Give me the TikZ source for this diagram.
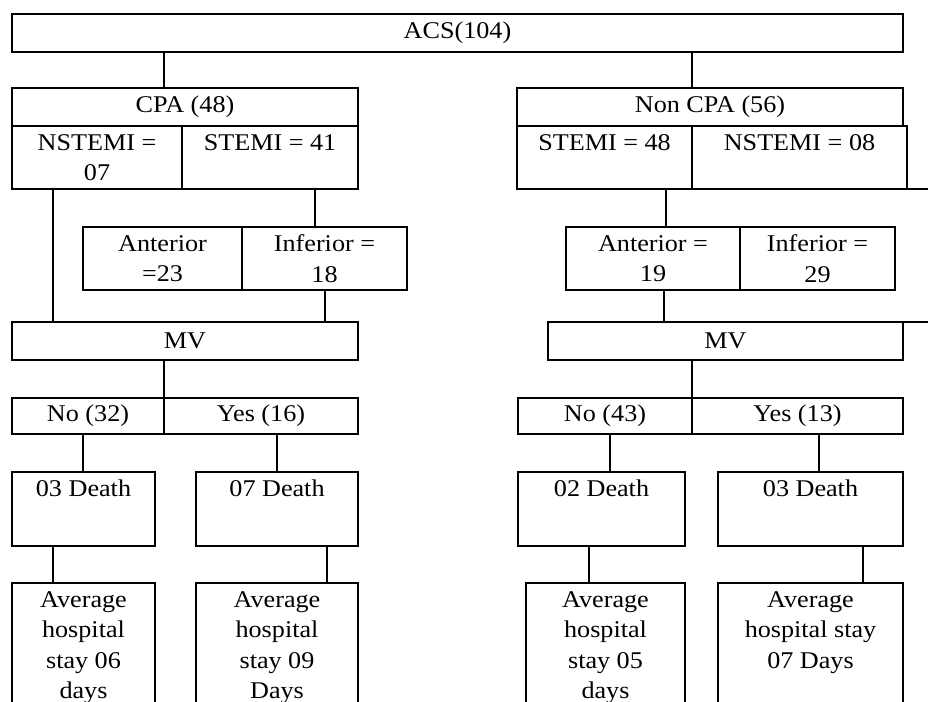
\documentclass[tikz,border=0pt]{standalone}
\usepackage{fontspec}
\setmainfont{Liberation Serif}[FakeStretch=1.09]
\usetikzlibrary{positioning}

\begin{document}
\begin{tikzpicture}[
    x=1pt, y=-1pt,
    font=\fontsize{24}{30.5}\selectfont,
    cell/.style={rectangle, draw, line width=1.8pt, anchor=north west, inner sep=0pt, outer sep=0pt, align=center},
    topcell/.style={cell, text height=24pt, text depth=#1},
    staycell/.style={cell, text height=#1, text depth=40pt},
    link/.style={line width=1.8pt}
]
\useasboundingbox (0,0) rectangle (928,701);
\clip (0,0) rectangle (928,701);
\coordinate (rim) at (940,0);

\node[cell, minimum width=891pt, minimum height=38pt] (acs) at (12,14) {ACS(104)};

% CPA branch
\node[cell, minimum width=346pt, minimum height=38pt] (cpa) at (12,88) {CPA (48)};
\node[cell, minimum width=170pt, minimum height=63pt] (nstemi1) at (12,126) {NSTEMI =\\07};
\node[topcell=39pt, minimum width=176pt] (stemi1) at (182,126) {STEMI = 41};
\node[cell, minimum width=159pt, minimum height=63pt] (ant1) at (83,227) {Anterior\\=23};
\node[cell, minimum width=165pt, minimum height=63pt] (inf1) at (242,227) {Inferior =\\18};
\node[cell, minimum width=346pt, minimum height=38pt] (mv1) at (12,322) {MV};
\node[cell, minimum width=152pt, minimum height=36pt] (no1) at (12,398) {No (32)};
\node[cell, minimum width=194pt, minimum height=36pt] (yes1) at (164,398) {Yes (16)};
\node[topcell=50pt, minimum width=143pt] (death1) at (12,472) {03 Death};
\node[topcell=50pt, minimum width=162pt] (death2) at (196,472) {07 Death};
\node[staycell=115.5pt, minimum width=143pt] (stay1) at (12,583) {Average\\hospital\\stay 06\\days};
\node[staycell=115.5pt, minimum width=162pt] (stay2) at (196,583) {Average\\hospital\\stay 09\\Days};

% Non CPA branch
\node[cell, minimum width=386pt, minimum height=38pt] (ncpa) at (517,88) {Non CPA (56)};
\node[topcell=39pt, minimum width=175pt] (stemi2) at (517,126) {STEMI = 48};
\node[topcell=39pt, minimum width=215pt] (nstemi2) at (692,126) {NSTEMI = 08};
\node[cell, minimum width=174pt, minimum height=63pt] (ant2) at (566,227) {Anterior =\\19};
\node[cell, minimum width=155pt, minimum height=63pt] (inf2) at (740,227) {Inferior =\\29};
\node[cell, minimum width=355pt, minimum height=38pt] (mv2) at (548,322) {MV};
\node[cell, minimum width=174pt, minimum height=36pt] (no2) at (518,398) {No (43)};
\node[cell, minimum width=211pt, minimum height=36pt] (yes2) at (692,398) {Yes (13)};
\node[topcell=50pt, minimum width=167pt] (death3) at (518,472) {02 Death};
\node[topcell=50pt, minimum width=185pt] (death4) at (718,472) {03 Death};
\node[staycell=115.5pt, minimum width=159pt] (stay3) at (526,583) {Average\\hospital\\stay 05\\days};
\node[staycell=85pt, minimum width=185pt] (stay4) at (718,583) {Average\\hospital stay\\07 Days};

\draw[link] (acs.south -| 164,0) -- (cpa.north -| 164,0);
\draw[link] (acs.south -| 692,0) -- (ncpa.north -| 692,0);
\draw[link] (nstemi1.south -| 53,0) -- (mv1.north -| 53,0);
\draw[link] (stemi1.south -| 315,0) -- (ant1.north -| 315,0);
\draw[link] (inf1.south -| 325,0) -- (mv1.north -| 325,0);
\draw[link] (mv1.south -| 164,0) -- (no1.north -| 164,0);
\draw[link] (no1.south -| 83,0) -- (death1.north -| 83,0);
\draw[link] (yes1.south -| 277,0) -- (death2.north -| 277,0);
\draw[link] (death1.south -| 53,0) -- (stay1.north -| 53,0);
\draw[link] (death2.south -| 327,0) -- (stay2.north -| 327,0);

\draw[link] (stemi2.south -| 666,0) -- (ant2.north -| 666,0);
\draw[link] (ant2.south -| 664,0) -- (mv2.north -| 664,0);
\draw[link] (mv2.south -| 692,0) -- (yes2.north -| 692,0);
\draw[link] (no2.south -| 610,0) -- (death3.north -| 610,0);
\draw[link] (yes2.south -| 819,0) -- (death4.north -| 819,0);
\draw[link] (death3.south -| 589,0) -- (stay3.north -| 589,0);
\draw[link] (death4.south -| 863,0) -- (stay4.north -| 863,0);
\draw[link] (nstemi2.south east) -- (nstemi2.south east -| rim);
\draw[link] (mv2.north east) -- (mv2.north east -| rim);
\end{tikzpicture}
\end{document}
